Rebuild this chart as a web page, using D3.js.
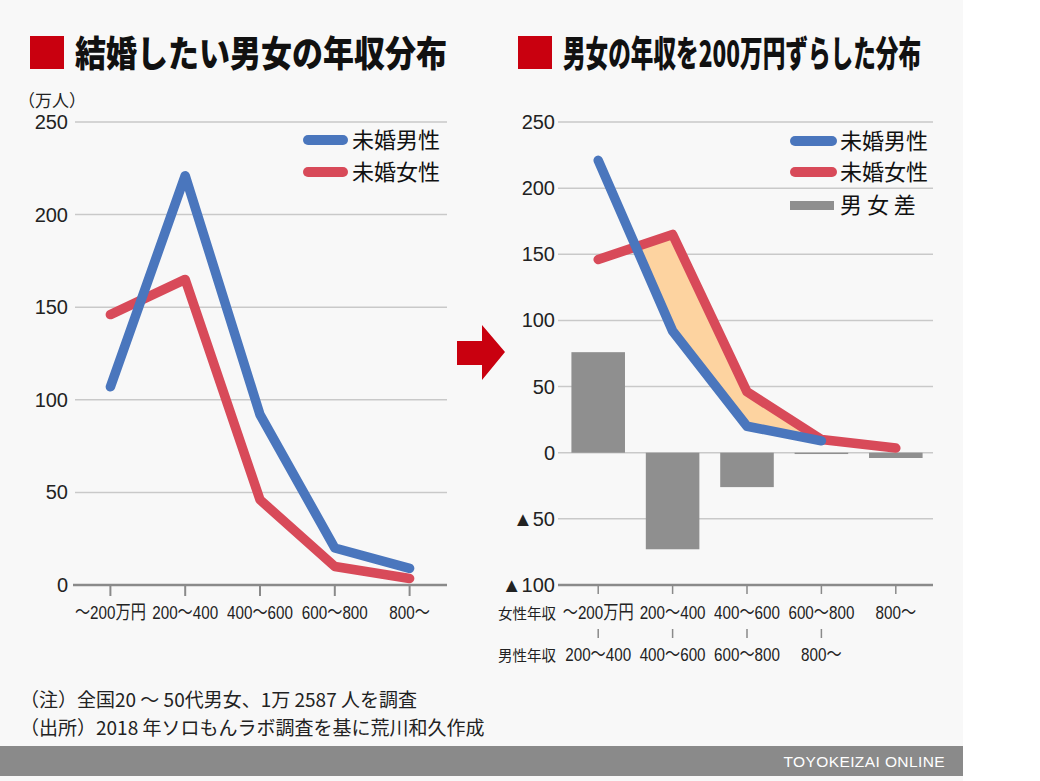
<!DOCTYPE html>
<html><head><meta charset="utf-8">
<script src="https://cdn.jsdelivr.net/npm/d3@7"></script>
<style>
html,body{margin:0;padding:0;background:#fff;}
</style></head>
<body><svg id="c" width="1040" height="781"></svg>
<script>
// ---- data ----
const categories = ["〜200万円","200〜400","400〜600","600〜800","800〜"];
const maleLeft = [107, 221, 92, 20, 9];
const femaleLeft = [146, 165, 46, 10, 3.5];
const femaleRight = [146, 165, 46, 10, 3.5];
const maleRight = [221, 92, 20, 9];           // male shifted by 200万円
const diffBars = [76, -73, -26, -1, -4];       // 男女差
const maleRowLabels = ["200〜400","400〜600","600〜800","800〜"];
const leftTicks = [0, 50, 100, 150, 200, 250];
const rightTicks = [-100, -50, 0, 50, 100, 150, 200, 250];
const seriesNames = ["未婚男性","未婚女性","男 女 差"];

const C = {blue:"#4a76bd", red:"#d84a59", bar:"#8f8f8f", fill:"#fdd3a0", grid:"#c9c9c9", axis:"#8a8a8a"};
const LAT = '"Liberation Sans","Noto Sans CJK JP",sans-serif';
const JP = '"Noto Sans CJK JP",sans-serif';

const svg = d3.select("#c");
svg.append("rect").attr("width",1040).attr("height",781).attr("fill","#fff");
svg.append("rect").attr("width",963).attr("height",781).attr("fill","#f8f8f8");

// titles
function title(x, txt, len){
  svg.append("rect").attr("x",x).attr("y",36).attr("width",34).attr("height",33).attr("fill","#c9000f");
  svg.append("text").attr("x",x+45).attr("y",67).text(txt)
    .style("font-family",JP).style("font-weight",900).style("font-size","36px")
    .attr("textLength",len).attr("lengthAdjust","spacingAndGlyphs").attr("fill","#111");
}
title(30,"結婚したい男女の年収分布",372);
title(518,"男女の年収を200万円ずらした分布",358);

// condensed tick label helper
function condense(sel, f){
  sel.each(function(){ const L=this.getComputedTextLength(); d3.select(this).attr("textLength",L*f).attr("lengthAdjust","spacingAndGlyphs"); });
}

// ---------- left chart ----------
const xL = d3.scaleBand().domain(d3.range(5)).range([73,447]);
const yL = d3.scaleLinear().domain([0,250]).range([585,122]);
const cx = (s,i)=>s(i)+s.bandwidth()/2;

const gL = svg.append("g");
gL.selectAll(".g").data(leftTicks.filter(d=>d>0)).join("line")
  .attr("x1",75).attr("x2",447).attr("y1",d=>yL(d)).attr("y2",d=>yL(d))
  .attr("stroke",C.grid).attr("stroke-width",1.5);
gL.append("line").attr("x1",73).attr("x2",447).attr("y1",yL(0)).attr("y2",yL(0)).attr("stroke",C.axis).attr("stroke-width",2.5);
gL.selectAll(".tk").data(d3.range(5)).join("line")
  .attr("x1",i=>cx(xL,i)).attr("x2",i=>cx(xL,i)).attr("y1",585).attr("y2",596).attr("stroke",C.axis).attr("stroke-width",2);
gL.selectAll(".yl").data(leftTicks).join("text")
  .attr("x",68).attr("y",d=>yL(d)+7).attr("text-anchor","end").style("font-family",LAT).style("font-size","20px").attr("fill","#222").text(d=>d);
gL.selectAll(".xl").data(categories).join("text")
  .attr("x",(d,i)=>cx(xL,i)).attr("y",619).attr("text-anchor","middle").style("font-family",LAT).style("font-size","19px")
  .attr("fill","#222").text(d=>d).call(condense,0.8);
svg.append("text").attr("x",18).attr("y",107).style("font-family",JP).style("font-size","17px").attr("fill","#222").text("（万人）");

const lineL = d3.line().x((d,i)=>cx(xL,i)).y(d=>yL(d));
gL.append("path").attr("d",lineL(femaleLeft)).attr("fill","none").attr("stroke",C.red).attr("stroke-width",9.5).attr("stroke-linecap","round").attr("stroke-linejoin","round");
gL.append("path").attr("d",lineL(maleLeft)).attr("fill","none").attr("stroke",C.blue).attr("stroke-width",9.5).attr("stroke-linecap","round").attr("stroke-linejoin","round");

function legendLine(x1,x2,y,col,txt,tx){
  svg.append("line").attr("x1",x1).attr("x2",x2).attr("y1",y).attr("y2",y).attr("stroke",col).attr("stroke-width",10).attr("stroke-linecap","round");
  svg.append("text").attr("x",tx).attr("y",y+8).style("font-family",JP).style("font-size","22px").attr("fill","#111").text(txt);
}
legendLine(308,343,140,C.blue,seriesNames[0],352);
legendLine(308,343,172,C.red,seriesNames[1],352);

// arrow
svg.append("path").attr("d","M457,341 L482,341 L482,325 L505,352 L482,380 L482,365 L457,365 Z").attr("fill","#c9000f");

// ---------- right chart ----------
const xR = d3.scaleBand().domain(d3.range(5)).range([561,933]);
const yR = d3.scaleLinear().domain([-100,250]).range([585,122]);
const gR = svg.append("g");
gR.selectAll(".g").data(rightTicks.filter(d=>d>-100)).join("line")
  .attr("x1",558).attr("x2",933).attr("y1",d=>yR(d)).attr("y2",d=>yR(d))
  .attr("stroke",C.grid).attr("stroke-width",1.5);
gR.append("line").attr("x1",558).attr("x2",933).attr("y1",yR(-100)).attr("y2",yR(-100)).attr("stroke",C.axis).attr("stroke-width",2.5);
gR.selectAll(".tk").data(d3.range(5)).join("line")
  .attr("x1",i=>cx(xR,i)).attr("x2",i=>cx(xR,i)).attr("y1",586).attr("y2",594).attr("stroke",C.axis).attr("stroke-width",1.5);
gR.selectAll(".tk2").data(d3.range(4)).join("line")
  .attr("x1",i=>cx(xR,i)).attr("x2",i=>cx(xR,i)).attr("y1",629).attr("y2",638).attr("stroke",C.axis).attr("stroke-width",1.5);
gR.selectAll(".yl").data(rightTicks).join("text")
  .attr("x",555).attr("y",d=>yR(d)+7).attr("text-anchor","end").style("font-family",LAT).style("font-size","20px").attr("fill","#222")
  .text(d=>d<0?"▲"+(-d):d);
gR.selectAll(".xl").data(categories).join("text")
  .attr("x",(d,i)=>cx(xR,i)).attr("y",619).attr("text-anchor","middle").style("font-family",LAT).style("font-size","19px")
  .attr("fill","#222").text(d=>d).call(condense,0.8);
gR.selectAll(".xl2").data(maleRowLabels).join("text")
  .attr("x",(d,i)=>cx(xR,i)).attr("y",661).attr("text-anchor","middle").style("font-family",LAT).style("font-size","19px")
  .attr("fill","#222").text(d=>d).call(condense,0.8);
gR.append("text").attr("x",498).attr("y",619).style("font-family",JP).style("font-size","14.5px").attr("fill","#222").text("女性年収");
gR.append("text").attr("x",498).attr("y",661).style("font-family",JP).style("font-size","14.5px").attr("fill","#222").text("男性年収");

// bars
const bw = xR.bandwidth()*0.72;
gR.selectAll(".bar").data(diffBars).join("rect")
  .attr("x",(d,i)=>cx(xR,i)-bw/2).attr("width",bw)
  .attr("y",d=>yR(Math.max(0,d))).attr("height",d=>Math.abs(yR(d)-yR(0)))
  .attr("fill",C.bar);

// fill between lines where female > male
const diffs = maleRight.map((m,i)=>femaleRight[i]-m);
let k = diffs.findIndex(d=>d>0);
const t = -diffs[k-1]/(diffs[k]-diffs[k-1]);
const crossX = (k-1)+t;
const crossY = maleRight[k-1]+t*(maleRight[k]-maleRight[k-1]);
const areaPts = [{x:crossX,lo:crossY,hi:crossY}];
for(let i=k;i<maleRight.length;i++) areaPts.push({x:i,lo:maleRight[i],hi:femaleRight[i]});
const xc = v=>xR(0)+xR.bandwidth()/2+v*xR.step();
gR.append("path").attr("d",d3.area().x(d=>xc(d.x)).y0(d=>yR(d.lo)).y1(d=>yR(d.hi))(areaPts)).attr("fill",C.fill);

const lineR = d3.line().x((d,i)=>cx(xR,i)).y(d=>yR(d));
gR.append("path").attr("d",lineR(femaleRight)).attr("fill","none").attr("stroke",C.red).attr("stroke-width",9.5).attr("stroke-linecap","round").attr("stroke-linejoin","round");
gR.append("path").attr("d",lineR(maleRight)).attr("fill","none").attr("stroke",C.blue).attr("stroke-width",9.5).attr("stroke-linecap","round").attr("stroke-linejoin","round");

legendLine(795,832,141,C.blue,seriesNames[0],840);
legendLine(795,832,172,C.red,seriesNames[1],840);
svg.append("rect").attr("x",790).attr("y",201).attr("width",44).attr("height",9).attr("fill",C.bar);
svg.append("text").attr("x",840).attr("y",213).style("font-family",JP).style("font-size","22px").attr("fill","#111").text(seriesNames[2]);

// footnotes
svg.append("text").attr("x",20).attr("y",707).style("font-family",JP).style("font-size","19px").attr("fill","#222").text("（注）全国20 〜 50代男女、1万 2587 人を調査");
svg.append("text").attr("x",20).attr("y",735).style("font-family",JP).style("font-size","19px").attr("fill","#222").text("（出所）2018 年ソロもんラボ調査を基に荒川和久作成");

// bottom bar
svg.append("rect").attr("x",0).attr("y",746).attr("width",963).attr("height",30).attr("fill","#8a8a8a");
svg.append("text").attr("x",945).attr("y",767).attr("text-anchor","end").style("font-family",LAT).style("font-size","15.5px").attr("letter-spacing",0.4).attr("fill","#fff").text("TOYOKEIZAI ONLINE");
</script></body></html>
